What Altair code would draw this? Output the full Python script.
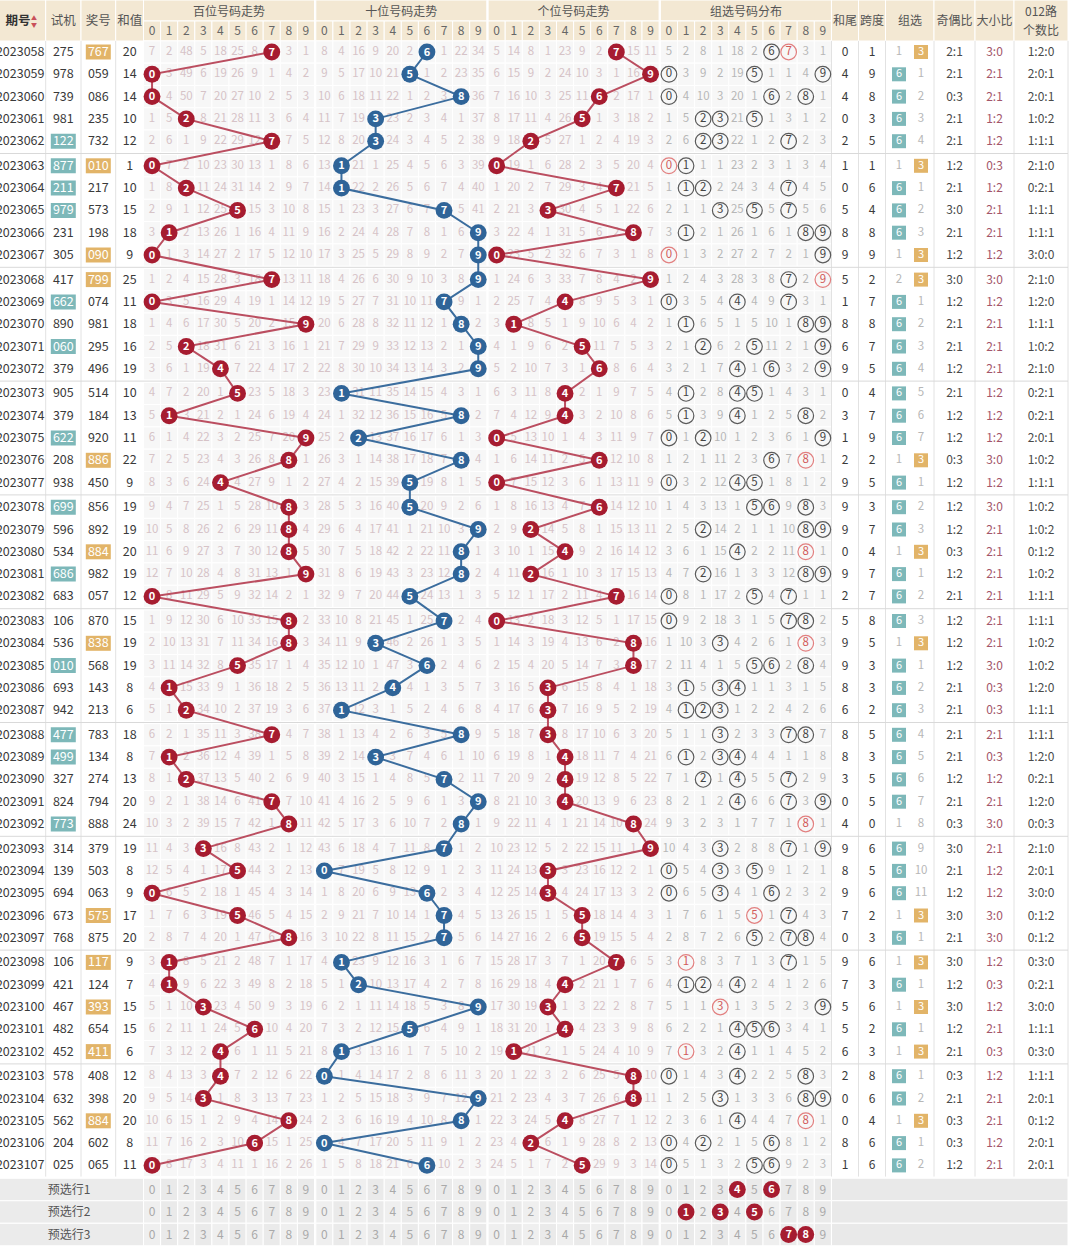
import altair as alt
import pandas as pd

W, H = 1070, 1253
FONT = "Noto Sans CJK SC"

# ---------------- data ----------------
periods = ["2023058", "2023059", "2023060", "2023061", "2023062", "2023063", "2023064", "2023065", "2023066", "2023067",
           "2023068", "2023069", "2023070", "2023071", "2023072", "2023073", "2023074", "2023075", "2023076", "2023077",
           "2023078", "2023079", "2023080", "2023081", "2023082", "2023083", "2023084", "2023085", "2023086", "2023087",
           "2023088", "2023089", "2023090", "2023091", "2023092", "2023093", "2023094", "2023095", "2023096", "2023097",
           "2023098", "2023099", "2023100", "2023101", "2023102", "2023103", "2023104", "2023105", "2023106", "2023107"]

trial_nums = ["275", "978", "739", "981", "122", "877", "211", "979", "231", "305",
              "417", "662", "890", "060", "379", "905", "379", "622", "208", "938",
              "699", "596", "534", "686", "683", "106", "536", "010", "693", "942",
              "477", "499", "327", "824", "773", "314", "139", "694", "673", "768",
              "106", "421", "467", "482", "452", "578", "632", "562", "204", "025"]

draw_nums = ["767", "059", "086", "235", "732", "010", "217", "573", "198", "090",
             "799", "074", "981", "295", "496", "514", "184", "920", "886", "450",
             "856", "892", "884", "982", "057", "870", "838", "568", "143", "213",
             "783", "134", "274", "794", "888", "379", "503", "063", "575", "875",
             "117", "124", "393", "654", "411", "408", "398", "884", "602", "065"]

sum_values = [20, 14, 14, 10, 12, 1, 10, 15, 18, 9,
              25, 11, 18, 16, 19, 10, 13, 11, 22, 9,
              19, 19, 20, 19, 12, 15, 19, 19, 8, 6,
              18, 8, 13, 20, 24, 19, 8, 9, 17, 20,
              9, 7, 15, 15, 6, 12, 20, 20, 8, 11]

# omission values shown in the first row (None = the drawn digit)
hundreds_first_row = [7, 2, 48, 5, 18, 25, 8, None, 3, 1]
tens_first_row = [8, 4, 16, 9, 20, 2, None, 1, 22, 34]
units_first_row = [5, 14, 8, 1, 23, 9, 2, None, 15, 11]
group_first_row = [5, 2, 8, 1, 18, 2, None, None, 3, 1]
g6_first_omission = 1

section_titles = ["百位号码走势", "十位号码走势", "个位号码走势", "组选号码分布"]
digits = ["0", "1", "2", "3", "4", "5", "6", "7", "8", "9"]
preselect_labels = ["预选行1", "预选行2", "预选行3"]
preselect_picks = [[4, 6], [1, 3, 5], [7, 8]]

# ---------------- layout ----------------
ROW0, PITCH, GAP = 52.0, 22.3, 2.3
def row_y(i):
    return ROW0 + i * PITCH + (i // 5) * GAP

SEC_X0 = [143.5, 315.8, 488.1, 660.4]
COLW = 17.1
def dig_x(s, d):
    return SEC_X0[s] + COLW * (d + 0.5)

LEFT_EDGES = [45.7, 81.0, 115.7, 143.5]
RIGHT_EDGES = [831.5, 858.5, 885.5, 934.0, 975.0, 1014.0, 1068.0]
X_PERIOD_R = 44.5
X_TRIAL, X_DRAW, X_SUM = 63.3, 98.3, 129.8
X_TAIL, X_SPAN, X_G6, X_G3, X_OE, X_BS, X_012 = 845.0, 872.0, 899.0, 921.0, 954.5, 994.5, 1041.0
HEAD_SPLIT, HEAD_BOTTOM = 21.0, 41.0
FOOT0, FOOTP = 1189.5, 22.5
BODY_TOP = row_y(0) - PITCH / 2
BODY_BOTTOM = row_y(len(periods) - 1) + PITCH / 2

C_HEAD = "#f3e8d3"
C_CELL = "#f7f7f7"
C_FOOT = "#ebebeb"
C_FOOTCELL = "#efefef"
C_TEAL = "#7db8b9"
C_ORANGE = "#e2b468"
C_RED_BALL = "#a61c30"
C_BLUE_BALL = "#2f6498"
C_RED_LINE = "#bb4e60"
C_BLUE_LINE = "#3b6d9e"
C_OMIT = "#d6c3c7"
C_OMIT_G = "#b7b7b7"
C_TEXT = "#3a3a3a"

# ---------------- derived per-row structures ----------------
n = len(periods)
draw_digits = [[int(c) for c in d] for d in draw_nums]

def omissions(first, hits):
    rows = [first]
    prev = first
    for h in hits[1:]:
        cur = [None if d in h else (0 if prev[d] is None else prev[d]) + 1 for d in range(10)]
        rows.append(cur)
        prev = cur
    return rows

pos_om = [omissions(first, [{dd[p]} for dd in draw_digits])
          for p, first in enumerate([hundreds_first_row, tens_first_row, units_first_row])]
grp_om = omissions(group_first_row, [set(dd) for dd in draw_digits])

def kind(num):
    k = len(set(num))
    return {3: "6", 2: "3", 1: "B"}[k]

kinds = [kind(d) for d in draw_nums]
g6_om, g3_om = [], []
p6, p3 = None, None
for i, k in enumerate(kinds):
    if i == 0:
        c6 = None if k == "6" else g6_first_omission
        c3 = None if k == "3" else 1
    else:
        c6 = None if k == "6" else (0 if p6 is None else p6) + 1
        c3 = None if k == "3" else (0 if p3 is None else p3) + 1
    g6_om.append(c6)
    g3_om.append(c3)
    p6, p3 = c6, c3

# ---------------- build layers' tables ----------------
cells, flat, rules = [], [], []
texts, rtexts, btexts = [], [], []
balls, rings, lines = [], [], []

def T(lst, x, y, t, c=C_TEXT, s=12.5):
    lst.append({"x": x, "y": y, "t": str(t), "c": c, "s": s})

# header cells
for x0, x1 in [(-5, LEFT_EDGES[0])] + list(zip(LEFT_EDGES[:-1], LEFT_EDGES[1:])):
    cells.append({"x": x0, "x2": x1, "y": 0, "y2": HEAD_BOTTOM, "f": C_HEAD})
for s in range(4):
    cells.append({"x": SEC_X0[s], "x2": SEC_X0[s] + 10 * COLW, "y": 0, "y2": HEAD_SPLIT, "f": C_HEAD})
    for d in range(10):
        cells.append({"x": SEC_X0[s] + d * COLW, "x2": SEC_X0[s] + (d + 1) * COLW,
                      "y": HEAD_SPLIT, "y2": HEAD_BOTTOM, "f": C_HEAD})
for x0, x1 in zip(RIGHT_EDGES[:-1], RIGHT_EDGES[1:]):
    cells.append({"x": x0, "x2": x1, "y": 0, "y2": HEAD_BOTTOM, "f": C_HEAD})

# body trend cells
for i in range(n):
    yc = row_y(i)
    for s in range(4):
        for d in range(10):
            cells.append({"x": SEC_X0[s] + d * COLW, "x2": SEC_X0[s] + (d + 1) * COLW,
                          "y": yc - PITCH / 2, "y2": yc + PITCH / 2, "f": C_CELL})

# footer cells
for k in range(3):
    yc = FOOT0 + k * FOOTP
    cells.append({"x": -5, "x2": SEC_X0[0], "y": yc - FOOTP / 2, "y2": yc + FOOTP / 2, "f": C_FOOT})
    cells.append({"x": RIGHT_EDGES[0], "x2": RIGHT_EDGES[-1], "y": yc - FOOTP / 2, "y2": yc + FOOTP / 2, "f": "#e9e9e9"})
    for s in range(4):
        for d in range(10):
            cells.append({"x": SEC_X0[s] + d * COLW, "x2": SEC_X0[s] + (d + 1) * COLW,
                          "y": yc - FOOTP / 2, "y2": yc + FOOTP / 2,
                          "f": C_FOOTCELL if d % 2 == 0 else "#eaeaea"})

# rules
for x in LEFT_EDGES[:3] + RIGHT_EDGES:
    rules.append({"x": x, "x2": x, "y": BODY_TOP, "y2": BODY_BOTTOM, "c": "#e2e2e2"})
for g in range(1, n // 5):
    yy = (row_y(5 * g - 1) + row_y(5 * g)) / 2
    rules.append({"x": 0, "x2": RIGHT_EDGES[-1], "y": yy, "y2": yy, "c": "#d9d9d9"})

# header texts
T(btexts, 18, 20.5, "期号", "#333333", 12.5)
T(texts, 34, 17.5, "▲", "#c9505a", 6)
T(texts, 34, 24.5, "▼", "#c9505a", 6)
T(texts, X_TRIAL, 20.5, "试机", "#555555", 12.5)
T(texts, X_DRAW, 20.5, "奖号", "#555555", 12.5)
T(texts, X_SUM, 20.5, "和值", "#555555", 12.5)
for s in range(4):
    T(texts, SEC_X0[s] + 5 * COLW, 11.5, section_titles[s], "#555555", 12)
    for d in range(10):
        T(texts, dig_x(s, d), 31, digits[d], "#666666", 12)
T(texts, X_TAIL, 20.5, "和尾", "#555555", 12)
T(texts, X_SPAN, 20.5, "跨度", "#555555", 12)
T(texts, (X_G6 + X_G3) / 2, 20.5, "组选", "#555555", 12)
T(texts, X_OE, 20.5, "奇偶比", "#555555", 12)
T(texts, X_BS, 20.5, "大小比", "#555555", 12)
T(texts, X_012, 12, "012路", "#555555", 12)
T(texts, X_012, 31, "个数比", "#555555", 12)

# body
pos_color_ball = [C_RED_BALL, C_BLUE_BALL, C_RED_BALL]
pos_color_line = [C_RED_LINE, C_BLUE_LINE, C_RED_LINE]
for i in range(n):
    yc = row_y(i)
    dd = draw_digits[i]
    T(rtexts, X_PERIOD_R, yc, periods[i], C_TEXT, 12.5)
    tk = kind(trial_nums[i])
    if tk == "3":
        flat.append({"x": X_TRIAL - 12.5, "x2": X_TRIAL + 12.5, "y": yc - 7.5, "y2": yc + 7.5, "f": C_TEAL})
        T(texts, X_TRIAL, yc, trial_nums[i], "#ffffff", 12.5)
    else:
        T(texts, X_TRIAL, yc, trial_nums[i], C_TEXT, 12.5)
    if kinds[i] == "3":
        flat.append({"x": X_DRAW - 12.5, "x2": X_DRAW + 12.5, "y": yc - 7.5, "y2": yc + 7.5, "f": C_ORANGE})
        T(texts, X_DRAW, yc, draw_nums[i], "#ffffff", 12.5)
    else:
        T(texts, X_DRAW, yc, draw_nums[i], C_TEXT, 12.5)
    T(texts, X_SUM, yc, sum_values[i], C_TEXT, 12.5)

    # position trends
    for p in range(3):
        for d in range(10):
            v = pos_om[p][i][d]
            if v is None:
                balls.append({"x": dig_x(p, d), "y": yc, "c": pos_color_ball[p]})
                T(btexts, dig_x(p, d), yc + 0.5, d, "#ffffff", 11)
                lines.append({"x": dig_x(p, d), "y": yc, "sec": p, "o": i, "c": pos_color_line[p]})
            else:
                T(texts, dig_x(p, d), yc, v, C_OMIT, 11.5)
    # group distribution
    for d in range(10):
        v = grp_om[i][d]
        if v is None:
            dbl = dd.count(d) >= 2
            rings.append({"x": dig_x(3, d), "y": yc, "c": "#e27f7f" if dbl else "#5a5a5a"})
            T(texts, dig_x(3, d), yc, d, "#d25a5a" if dbl else "#444444", 11.5)
        else:
            T(texts, dig_x(3, d), yc, v, C_OMIT_G, 11.5)

    # right columns
    s = sum(dd)
    T(texts, X_TAIL, yc, s % 10, C_TEXT, 12)
    T(texts, X_SPAN, yc, max(dd) - min(dd), C_TEXT, 12)
    if g6_om[i] is None:
        flat.append({"x": X_G6 - 7, "x2": X_G6 + 7, "y": yc - 7, "y2": yc + 7, "f": C_TEAL})
        T(texts, X_G6, yc, "6", "#ffffff", 11)
    else:
        T(texts, X_G6, yc, g6_om[i], C_OMIT_G, 11.5)
    if g3_om[i] is None:
        flat.append({"x": X_G3 - 7, "x2": X_G3 + 7, "y": yc - 7, "y2": yc + 7, "f": C_ORANGE})
        T(texts, X_G3, yc, "3", "#ffffff", 11)
    else:
        T(texts, X_G3, yc, g3_om[i], C_OMIT_G, 11.5)
    odd = sum(1 for v in dd if v % 2 == 1)
    big = sum(1 for v in dd if v >= 5)
    r = [sum(1 for v in dd if v % 3 == k) for k in range(3)]
    T(texts, X_OE, yc, f"{odd}:{3 - odd}", "#4a4a4a", 12)
    T(texts, X_BS, yc, f"{big}:{3 - big}", "#a3566a", 12)
    T(texts, X_012, yc, f"{r[0]}:{r[1]}:{r[2]}", "#4a4a4a", 12)

# footer
for k in range(3):
    yc = FOOT0 + k * FOOTP
    T(texts, 69, yc, preselect_labels[k], "#555555", 12)
    for s in range(4):
        for d in range(10):
            if s == 3 and d in preselect_picks[k]:
                balls.append({"x": dig_x(s, d), "y": yc, "c": C_RED_BALL})
                T(btexts, dig_x(s, d), yc + 0.5, d, "#ffffff", 11)
            else:
                T(texts, dig_x(s, d), yc, d, "#a9a9a9", 12)

# ---------------- chart ----------------
xs = alt.Scale(domain=[0, W], range=[0, W], nice=False, zero=False)
ys = alt.Scale(domain=[0, H], range=[0, H], nice=False, zero=False)
X = lambda f="x": alt.X(f"{f}:Q", scale=xs, axis=None)
Y = lambda f="y": alt.Y(f"{f}:Q", scale=ys, axis=None)

def rect_layer(rows, stroke):
    kw = dict(stroke="#ffffff", strokeWidth=1) if stroke else dict(strokeWidth=0)
    return alt.Chart(pd.DataFrame(rows)).mark_rect(**kw).encode(
        x=X(), x2="x2:Q", y=Y(), y2="y2:Q", color=alt.Color("f:N", scale=None))

def text_layer(rows, **kw):
    return alt.Chart(pd.DataFrame(rows)).mark_text(font=FONT, baseline="middle", **kw).encode(
        x=X(), y=Y(), text="t:N", color=alt.Color("c:N", scale=None), size=alt.Size("s:Q", scale=None))

layers = [
    rect_layer(cells, True),
    rect_layer(flat, False),
    alt.Chart(pd.DataFrame(rules)).mark_rule(strokeWidth=1).encode(
        x=X(), x2="x2:Q", y=Y(), y2="y2:Q", color=alt.Color("c:N", scale=None)),
    text_layer(texts, align="center"),
    alt.Chart(pd.DataFrame(lines)).mark_line(strokeWidth=2).encode(
        x=X(), y=Y(), detail="sec:N", order="o:Q", color=alt.Color("c:N", scale=None)),
    alt.Chart(pd.DataFrame(balls)).mark_circle(size=285, opacity=1).encode(
        x=X(), y=Y(), color=alt.Color("c:N", scale=None)),
    alt.Chart(pd.DataFrame(rings)).mark_point(shape="circle", filled=False, size=245, strokeWidth=1.2, opacity=1).encode(
        x=X(), y=Y(), color=alt.Color("c:N", scale=None)),
    text_layer(rtexts, align="right"),
    text_layer(btexts, align="center", fontWeight="bold"),
]

chart = alt.layer(*layers).properties(
    width=W, height=H, padding=0, background="#ffffff",
    autosize=alt.AutoSizeParams(type="none"),
).configure_view(stroke=None)

chart.save("out.html", embed_options={"renderer": "svg", "actions": False})
